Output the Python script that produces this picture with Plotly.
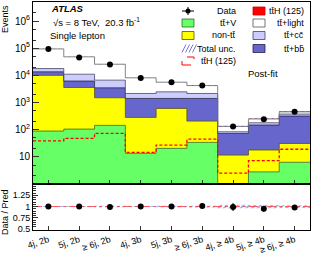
import plotly.graph_objects as go

categories = ["4j, 2b", "5j, 2b", "≥ 6j, 2b", "4j, 3b", "5j, 3b", "≥ 6j, 3b",
              "4j, ≥ 4b", "5j, ≥ 4b", "≥ 6j, ≥ 4b"]
ttV = [89, 105, 144, 13.4, 20.5, 34, 0.9, 2.8, 6.3]
non_tt = [9900, 3460, 1350, 270, 585, 173, 10.7, 15, 24.7]
tt_bb = [3500, 2590, 1980, 1127, 805, 1203, 61, 130, 285]
tt_cc = [4300, 4850, 3180, 740, 1060, 740, 11, 32, 59]
tt_light = [76200, 37000, 19050, 5950, 3130, 2050, 48.5, 68, 76]
ttH = [39, 48, 73, 14.6, 27, 45, 2.5, 7.2, 19]
data = [94000, 45600, 25100, 7900, 5600, 4200, 130, 240, 455]
ratio = [1.0, 1.0, 0.99, 1.0, 1.0, 1.01, 0.99, 0.95, 0.98]
ratio_err = [0.003, 0.005, 0.006, 0.011, 0.013, 0.015, 0.09, 0.065, 0.047]
total_unc = [0.01, 0.01, 0.015, 0.012, 0.015, 0.02, 0.04, 0.035, 0.03]

FONT = "Liberation Sans, Arial, sans-serif"
W, H = 312, 258
L, R, T, B = 33, 310, 2, 230
MAIN_BOT = 184

n = len(categories)
xc = list(range(n))
xe = [i - 0.5 for i in range(n + 1)]


def step(vals):
    return xe, list(vals) + [vals[-1]]


def px(x):
    return (x - L) / (R - L)


def py(y):
    return (B - y) / (B - T)


fig = go.Figure()

# baseline for stacked fills
bx, by = step([1e-3] * n)
fig.add_trace(go.Scatter(x=bx, y=by, mode="lines", line=dict(width=0), line_shape="hv",
                         showlegend=False, hoverinfo="skip"))

cum = [0.0] * n
layers = [
    (ttV, "#66ff66", "#2e6b2e", 0.8),
    (non_tt, "#ffff00", "#555500", 0.8),
    (tt_bb, "#6666cc", "#222244", 0.8),
    (tt_cc, "#ccccff", "#444466", 0.8),
    (tt_light, "#ffffff", "#777777", 0.9),
    (ttH, "#ff0000", "#ff0000", 0),
]
for vals, fc, lc, lw in layers:
    cum = [c + v for c, v in zip(cum, vals)]
    sx, sy = step(cum)
    fig.add_trace(go.Scatter(x=sx, y=sy, mode="lines", line=dict(color=lc, width=lw),
                             line_shape="hv", fill="tonexty", fillcolor=fc,
                             showlegend=False, hoverinfo="skip"))
total = cum

HATCH = dict(shape="/", fgcolor="#3333bb", bgcolor="rgba(0,0,0,0)", size=4, solidity=0.4)

# total uncertainty band (main)
lo = [t * (1 - u) for t, u in zip(total, total_unc)]
hi = [t * (1 + u) for t, u in zip(total, total_unc)]
sx, sy = step(lo)
fig.add_trace(go.Scatter(x=sx, y=sy, mode="lines", line=dict(width=0), line_shape="hv",
                         showlegend=False, hoverinfo="skip"))
sx, sy = step(hi)
fig.add_trace(go.Scatter(x=sx, y=sy, mode="lines", line=dict(width=0), line_shape="hv",
                         fill="tonexty", fillcolor="rgba(0,0,0,0)", fillpattern=HATCH,
                         showlegend=False, hoverinfo="skip"))

# ttH unstacked dashed
sx, sy = step(ttH)
fig.add_trace(go.Scatter(x=sx, y=sy, mode="lines", line=dict(color="#ff0000", width=1.3, dash="3px,2px"),
                         line_shape="hv", showlegend=False, hoverinfo="skip"))

# data
fig.add_trace(go.Scatter(x=xc, y=data, mode="markers",
                         marker=dict(color="black", size=6),
                         error_y=dict(type="data", array=[d ** 0.5 for d in data], color="black",
                                      thickness=1, width=0),
                         showlegend=False))

# ratio panel
rlo = [1 - u for u in total_unc]
rhi = [1 + u for u in total_unc]
sx, sy = step(rlo)
fig.add_trace(go.Scatter(x=sx, y=sy, xaxis="x2", yaxis="y2", mode="lines", line=dict(width=0),
                         line_shape="hv", showlegend=False, hoverinfo="skip"))
sx, sy = step(rhi)
fig.add_trace(go.Scatter(x=sx, y=sy, xaxis="x2", yaxis="y2", mode="lines", line=dict(width=0),
                         line_shape="hv", fill="tonexty", fillcolor="rgba(0,0,0,0)",
                         fillpattern=HATCH, showlegend=False, hoverinfo="skip"))
fig.add_trace(go.Scatter(x=[xe[0], xe[-1]], y=[1, 1], xaxis="x2", yaxis="y2", mode="lines",
                         line=dict(color="#ff3333", width=0.8, dash="dashdot"),
                         showlegend=False, hoverinfo="skip"))
fig.add_trace(go.Scatter(x=xc, y=ratio, xaxis="x2", yaxis="y2", mode="markers",
                         marker=dict(color="black", size=6),
                         error_y=dict(type="data", array=ratio_err, color="black", thickness=1, width=0),
                         showlegend=False))

split = (B - MAIN_BOT) / (B - T)
axis_common = dict(showline=True, linecolor="black", linewidth=1, mirror=True, showgrid=False,
                   zeroline=False)
fig.update_layout(
    width=W, height=H,
    margin=dict(l=L, r=W - R, t=T, b=H - B, pad=0),
    paper_bgcolor="white", plot_bgcolor="white",
    font=dict(family=FONT, size=9, color="black"),
    showlegend=False,
    xaxis=dict(domain=[0, 1], range=[xe[0], xe[-1]], anchor="y", tickvals=xc,
               showticklabels=False, ticks="inside", ticklen=4, tickcolor="#333",
               **axis_common),
    yaxis=dict(domain=[split, 1], type="log", range=[0, 6.7], anchor="x",
               tickvals=[10, 100, 1e3, 1e4, 1e5, 1e6],
               ticktext=["10", "10<sup>2</sup>", "10<sup>3</sup>", "10<sup>4</sup>",
                         "10<sup>5</sup>", "10<sup>6</sup>"],
               ticks="inside", ticklen=6, tickcolor="#333",
               minor=dict(ticks="inside", ticklen=3, tickcolor="#333"),
               tickfont=dict(size=10), **axis_common),
    xaxis2=dict(domain=[0, 1], range=[xe[0], xe[-1]], anchor="y2", tickvals=xc,
                ticktext=categories, tickangle=-18, ticks="inside", ticklen=4, tickcolor="#333",
                tickfont=dict(size=9), **axis_common),
    yaxis2=dict(domain=[0, split], range=[0.48, 1.5], anchor="x2",
                tickvals=[0.5, 0.75, 1, 1.25], ticktext=["0.5", "0.75", "1", "1.25"],
                ticks="inside", ticklen=5, tickcolor="#333",
                minor=dict(ticks="inside", ticklen=2.5, dtick=0.05, tickcolor="#333"),
                tickfont=dict(size=9), **axis_common),
)

ann = []
shapes = []


def text(x, y, s, size=9, anchor="left", **kw):
    ann.append(dict(x=px(x), y=py(y), xref="paper", yref="paper", text=s, showarrow=False,
                    xanchor=anchor, yanchor="middle", font=dict(size=size, family=FONT), **kw))


text(49, 9, "<b><i>ATLAS</i></b>", size=9.5)
text(51, 22, "√s = 8 TeV,  20.3 fb<sup>-1</sup>", size=9.5)
text(48, 35, "Single lepton", size=9.5)
text(246, 73, "Post-fit", size=9.5)

# axis titles
ann.append(dict(x=-28 / (R - L), y=py(3), xref="paper", yref="paper", text="Events",
                showarrow=False, textangle=-90, xanchor="center", yanchor="top",
                font=dict(size=9, family=FONT)))
ann.append(dict(x=-28 / (R - L), y=py(212), xref="paper", yref="paper", text="Data / Pred",
                showarrow=False, textangle=-90, xanchor="center", yanchor="middle",
                font=dict(size=9, family=FONT)))

# legend
rows = [11, 23, 35.5, 48.5, 61]
lx0, lx1, ltx = 182, 194, 238
rx0, rx1, rtx = 253, 265, 306


def box(x0, x1, yc, fill, line, dash=None):
    shapes.append(dict(type="rect", xref="paper", yref="paper", x0=px(x0), x1=px(x1),
                       y0=py(yc + 4), y1=py(yc - 4), fillcolor=fill,
                       line=dict(color=line, width=1, dash=dash) if dash else dict(color=line, width=0.8)))


# Data
shapes.append(dict(type="line", xref="paper", yref="paper", x0=px(lx0), x1=px(lx1),
                   y0=py(rows[0]), y1=py(rows[0]), line=dict(color="black", width=1)))
shapes.append(dict(type="line", xref="paper", yref="paper", x0=px(188), x1=px(188),
                   y0=py(rows[0] - 4), y1=py(rows[0] + 4), line=dict(color="black", width=1)))
shapes.append(dict(type="circle", xref="paper", yref="paper", x0=px(185.5), x1=px(190.5),
                   y0=py(rows[0] + 2.5), y1=py(rows[0] - 2.5), fillcolor="black",
                   line=dict(color="black", width=0)))
text(ltx, rows[0], "Data", anchor="right")
box(lx0, lx1, rows[1], "#66ff66", "#2e6b2e")
text(ltx, rows[1], "tt̄+V", anchor="right")
box(lx0, lx1, rows[2], "#ffff00", "#555500")
text(ltx, rows[2], "non-tt̄", anchor="right")
# hatched legend symbol
for k in range(4):
    x0 = lx0 + k * 3.5
    shapes.append(dict(type="line", xref="paper", yref="paper", x0=px(x0), x1=px(x0 + 4),
                       y0=py(rows[3] + 4), y1=py(rows[3] - 4), line=dict(color="#5555cc", width=0.8)))
text(ltx, rows[3], "Total unc.", anchor="right")
box(lx0, lx1, rows[4], "rgba(0,0,0,0)", "#ff0000", dash="dash")
text(ltx, rows[4], "tt̄H (125)", anchor="right")

box(rx0, rx1, rows[0], "#ff0000", "#cc0000")
text(rtx, rows[0], "tt̄H (125)", anchor="right")
box(rx0, rx1, rows[1], "#ffffff", "#555555")
text(rtx, rows[1], "tt̄+light", anchor="right")
box(rx0, rx1, rows[2], "#ccccff", "#444466")
text(rtx, rows[2], "tt̄+cc̄", anchor="right")
box(rx0, rx1, rows[3], "#6666cc", "#222244")
text(rtx, rows[3], "tt̄+bb̄", anchor="right")

fig.update_layout(annotations=ann, shapes=shapes)
fig.write_html("out.html", config={"displayModeBar": False},
               post_script="document.body.style.margin='0';document.body.style.overflow='hidden';")
